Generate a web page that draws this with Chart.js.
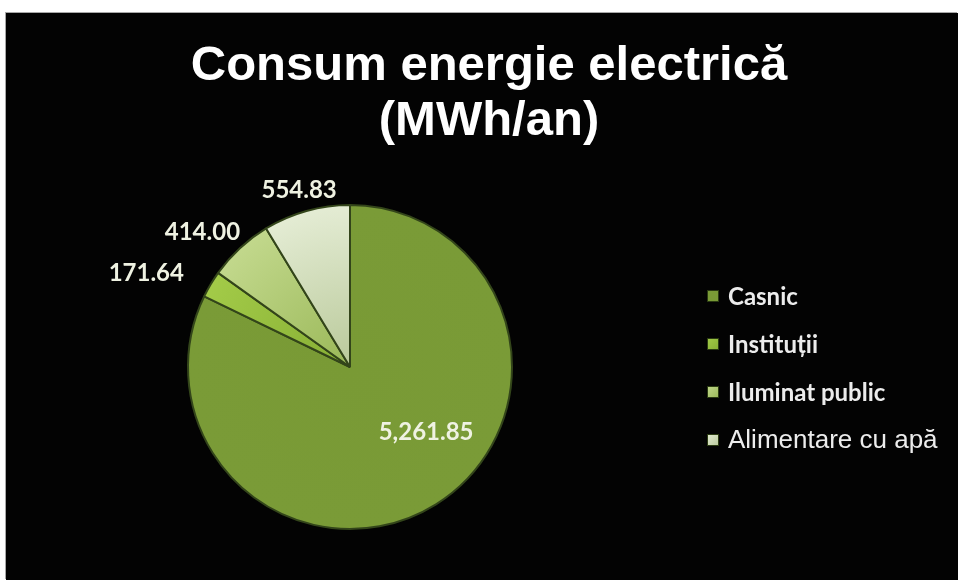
<!DOCTYPE html>
<html>
<head>
<meta charset="utf-8">
<title>Consum energie electrică</title>
<script src="https://cdn.jsdelivr.net/npm/chart.js@4.4.1/dist/chart.umd.min.js"></script>
<style>
    html, body { margin: 0; padding: 0; background: #ffffff; }
    #frame {
        position: absolute; left: 6px; top: 13px;
        width: 952px; height: 567px;
        background: #030303;
        box-shadow: -1px -1px 0 #a8a8a8;
    }
    canvas { display: block; }
</style>
</head>
<body>
<div id="frame"><canvas id="myChart" width="952" height="567"></canvas></div>
<script>
// consumption per sector, MWh/an
const categories = ["Casnic", "Instituții", "Iluminat public", "Alimentare cu apă"];
const consumption = [5261.85, 171.64, 414.00, 554.83];
const titleLines = ["Consum energie electrică", "(MWh/an)"];

// inner / outer colour of each slice
const SLICE_COLORS = [
    ["#799a35", "#7a9b37"],
    ["#86ae34", "#a3cb48"],
    ["#9ab858", "#c2d88c"],
    ["#b9c99a", "#e4ecd4"]
];
const LEGEND_FONTS = [
    "bold 24px Lato",
    "bold 24px Lato",
    "bold 24px Lato",
    "26px 'Liberation Sans'"
];

function formatValue(v) {
    return v.toLocaleString("en-US", { minimumFractionDigits: 2, maximumFractionDigits: 2 });
}

function sliceFill(context) {
    const chart = context.chart;
    const area = chart.chartArea;
    if (!area) return SLICE_COLORS[context.dataIndex][1];
    const cx = (area.left + area.right) / 2;
    const cy = (area.top + area.bottom) / 2;
    const r = Math.min(area.right - area.left, area.bottom - area.top) / 2;
    const g = chart.ctx.createRadialGradient(cx, cy, 0, cx, cy, r);
    g.addColorStop(0, SLICE_COLORS[context.dataIndex][0]);
    g.addColorStop(1, SLICE_COLORS[context.dataIndex][1]);
    return g;
}

// title, value labels and legend are painted by hand
const decorations = {
    id: "decorations",
    afterDraw(chart) {
        const ctx = chart.ctx;
        const meta = chart.getDatasetMeta(0);

        // title
        ctx.save();
        ctx.fillStyle = "#ffffff";
        ctx.textAlign = "center";
        ctx.textBaseline = "middle";
        ctx.font = "bold 49px 'Liberation Sans'";
        titleLines.forEach(function (line, i) {
            ctx.fillText(line, 483, 53 + i * 55);
        });
        ctx.restore();

        // value labels: big slice inside, the small ones outside the rim
        ctx.save();
        ctx.font = "bold 24px Lato";
        ctx.fillStyle = "#eff2e2";
        ctx.textAlign = "center";
        ctx.textBaseline = "middle";
        meta.data.forEach(function (arc, i) {
            const p = arc.getProps(["x", "y", "startAngle", "endAngle", "outerRadius"], true);
            const mid = (p.startAngle + p.endAngle) / 2;
            const text = formatValue(consumption[i]);
            var x, y;
            if (i === 0) {
                const a = mid - 0.3;
                x = p.x + Math.cos(a) * p.outerRadius * 0.62;
                y = p.y + Math.sin(a) * p.outerRadius * 0.62;
            } else {
                const w = ctx.measureText(text).width;
                const c = Math.cos(mid);
                x = p.x + c * (p.outerRadius + 22) + c * c * c * w * 0.95;
                y = p.y + Math.sin(mid) * (p.outerRadius + 22);
            }
            ctx.fillText(text, x, y);
        });
        ctx.restore();

        // legend
        ctx.save();
        ctx.textBaseline = "middle";
        ctx.textAlign = "left";
        categories.forEach(function (label, i) {
            const y = 283 + i * 48;
            const g = ctx.createLinearGradient(701, y - 6, 713, y + 6);
            g.addColorStop(0, SLICE_COLORS[i][1]);
            g.addColorStop(1, SLICE_COLORS[i][0]);
            ctx.fillStyle = g;
            ctx.fillRect(701, y - 6, 12, 12);
            ctx.strokeStyle = "#2a3a12";
            ctx.lineWidth = 1;
            ctx.strokeRect(701.5, y - 5.5, 11, 11);
            ctx.fillStyle = "#ececec";
            ctx.font = LEGEND_FONTS[i];
            ctx.fillText(label, 722, y + 1);
        });
        ctx.restore();
    }
};

const ctx = document.getElementById("myChart").getContext("2d");
const myChart = new Chart(ctx, {
    type: "pie",
    data: {
        labels: categories,
        datasets: [{
            data: consumption,
            backgroundColor: sliceFill,
            borderColor: "#33451a",
            borderWidth: 2
        }]
    },
    options: {
        responsive: false,
        animation: false,
        layout: {
            padding: { left: 181, right: 445, top: 190, bottom: 49 }
        },
        plugins: {
            legend: { display: false },
            title: { display: false },
            tooltip: { enabled: false }
        }
    },
    plugins: [decorations]
});
</script>
</body>
</html>
